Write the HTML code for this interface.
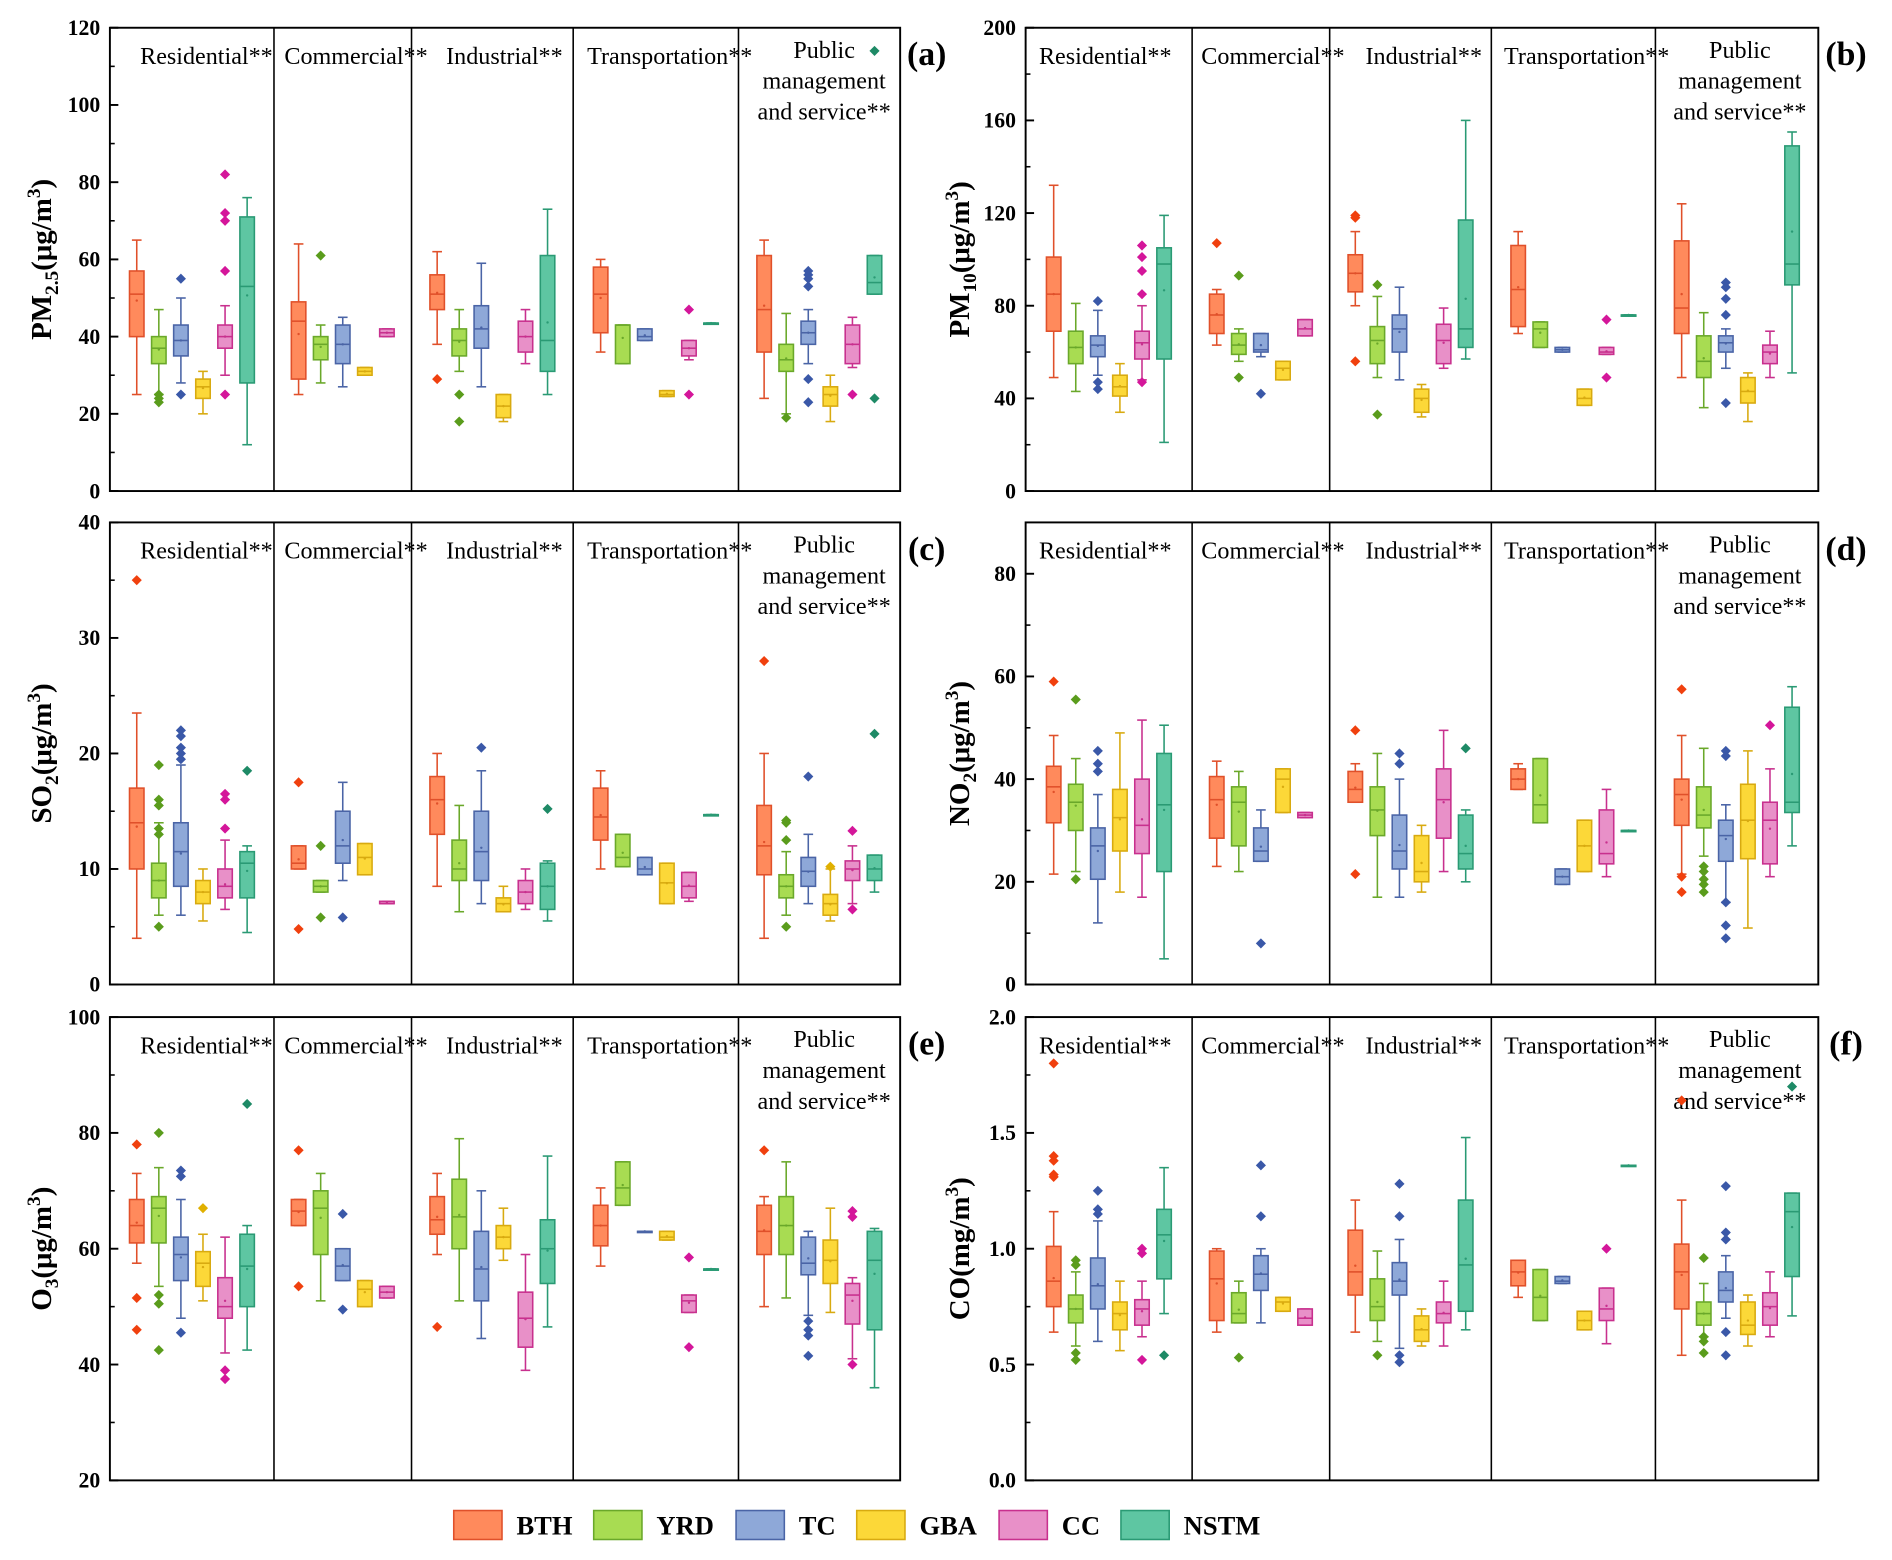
<!DOCTYPE html>
<html><head><meta charset="utf-8"><style>
html,body{margin:0;padding:0;background:#fff}
svg{display:block}
text{font-family:"Liberation Serif",serif;fill:#000}
</style></head><body>
<svg id="chart" xmlns="http://www.w3.org/2000/svg" width="1892" height="1560" viewBox="0 0 1568 1293"></svg>
<script>
const seriesNames=['BTH','YRD','TC','GBA','CC','NSTM'];
const categories=['Residential**','Commercial**','Industrial**','Transportation**','Public management and service**'];
const ticksA=[0,20,40,60,80,100,120];
const ticksB=[0,40,80,120,160,200];
const ticksC=[0,10,20,30,40];
const ticksD=[0,20,40,60,80];
const ticksE=[20,40,60,80,100];
const ticksF=[0,0.5,1.0,1.5,2.0];
// each box: [low, q1, median, q3, high, [outliers]]
const pm25=[
 [[25,40,51,57,65,[]],[25,33,37,40,47,[23,24,25]],[28,35,39,43,50,[55,25]],[20,24,27,29,31,[]],[30,37,40,43,48,[82,72,70,57,25]],[12,28,53,71,76,[]]],
 [[25,29,44,49,64,[]],[28,34,38,40,43,[61]],[27,33,38,43,45,[]],[30,30,31,32,32,[]],[40,40,41,42,42,[]],null],
 [[38,47,51,56,62,[29]],[31,35,39,42,47,[25,18]],[27,37,42,48,59,[]],[18,19,22,25,25,[]],[33,36,40,44,47,[]],[25,31,39,61,73,[]]],
 [[36,41,51,58,60,[]],[33,33,43,43,43,[]],[39,39,40,42,42,[]],[24.5,24.5,25,26,26,[]],[34,35,37,39,39,[47,25]],[43.5,43.5,43.5,43.5,43.5,[]]],
 [[24,36,47,61,65,[]],[20,31,34,38,46,[19]],[33,38,41,44,47,[57,56,55,53,29,23]],[18,22,25,27,30,[]],[32,33,38,43,45,[25]],[51,51,54,61,61,[24,114]]]
];
const pm10=[
 [[49,69,85,101,132,[]],[43,55,62,69,81,[]],[50,58,63,67,78,[82,47,44]],[34,41,45,50,55,[]],[48,57,64,69,80,[106,101,95,85,47]],[21,57,98,105,119,[]]],
 [[63,68,76,85,87,[107]],[56,59,63,68,70,[93,49]],[58,60,61,68,68,[42]],[48,48,53,56,56,[]],[67,67,70,74,74,[]],null],
 [[80,86,94,102,112,[119,118,56]],[49,55,65,71,84,[89,33]],[48,60,70,76,88,[]],[32,34,40,44,46,[]],[53,55,65,72,79,[]],[57,62,70,117,160,[]]],
 [[68,71,87,106,112,[]],[62,62,70,73,73,[]],[60,60,61,62,62,[]],[37,37,40,44,44,[]],[59,59,60,62,62,[74,49]],[76,76,76,76,76,[]]],
 [[49,68,79,108,124,[]],[36,49,56,67,77,[]],[53,60,64,67,70,[90,88,83,76,38]],[30,38,43,49,51,[]],[49,55,60,63,69,[]],[51,89,98,149,155,[]]]
];
const so2=[
 [[4,10,14,17,23.5,[35]],[6,7.5,9,10.5,14,[19,16,15.5,13.5,13,5]],[6,8.5,11.5,14,19,[22,21.5,20.5,20,19.5]],[5.5,7,8,9,10,[]],[6.5,7.5,8.5,10,12.5,[16.5,16,13.5]],[4.5,7.5,10.5,11.5,12,[18.5]]],
 [[10,10,10.5,12,12,[17.5,4.8]],[8,8,8.5,9,9,[12,5.8]],[9,10.5,12,15,17.5,[5.8]],[9.5,9.5,11,12.2,12.2,[]],[7,7,7,7.2,7.2,[]],null],
 [[8.5,13,16,18,20,[]],[6.3,9,10,12.5,15.5,[]],[7,9,11.5,15,18.5,[20.5]],[6.3,6.3,7,7.5,8.5,[]],[6.5,7,8,9,10,[]],[5.5,6.5,8.5,10.5,10.7,[15.2]]],
 [[10,12.5,14.5,17,18.5,[]],[10.2,10.2,11,13,13,[]],[9.5,9.5,10,11,11,[]],[7,7,8.8,10.5,10.5,[]],[7.2,7.5,8.5,9.7,9.7,[]],[14.7,14.7,14.7,14.7,14.7,[]]],
 [[4,9.5,12,15.5,20,[28]],[6,7.5,8.5,9.5,11.5,[14.2,14,12.5,5]],[7,8.5,9.8,11,13,[18]],[5.5,6,7,7.8,10,[10.2]],[7,9,10,10.7,12,[13.3,6.5]],[8,9,10,11.2,11.2,[21.7]]]
];
const no2=[
 [[21.5,31.5,38.5,42.5,48.5,[59]],[22,30,35.5,39,44,[55.5,20.5]],[12,20.5,27,30.5,37,[45.5,43,41.5]],[18,26,32.5,38,49,[]],[17,25.5,31,40,51.5,[]],[5,22,35,45,50.5,[]]],
 [[23,28.5,36,40.5,43.5,[]],[22,27,35.5,38.5,41.5,[]],[24,24,26,30.5,34,[8]],[33.5,33.5,40,42,42,[]],[32.5,32.5,33,33.5,33.5,[]],null],
 [[35.5,35.5,38,41.5,43,[49.5,21.5]],[17,29,34,38.5,45,[]],[17,22.5,26,33,40,[45,43]],[18,20,22,29,31,[]],[22,28.5,36,42,49.5,[]],[20,22.5,25.5,33,34,[46]]],
 [[38,38,40,42,43,[]],[31.5,31.5,35,44,44,[]],[19.5,19.5,21,22.5,22.5,[]],[22,22,27,32,32,[]],[21,23.5,25.5,34,38,[]],[30,30,30,30,30,[]]],
 [[21.5,31,37,40,48.5,[57.5,21,18]],[25,30.5,33,38.5,46,[23,22,20.5,19.5,18]],[16,24,29,32,35,[45.5,44.5,16,11.5,9]],[11,24.5,32,39,45.5,[]],[21,23.5,32,35.5,42,[50.5]],[27,33.5,35.5,54,58,[]]]
];
const o3=[
 [[57.5,61,64,68.5,73,[78,51.5,46]],[53.5,61,67,69,74,[80,52,50.5,42.5]],[48,54.5,59,62,68.5,[73.5,72.5,45.5]],[51,53.5,57.5,59.5,62.5,[67]],[42,48,50,55,62,[39,37.5]],[42.5,50,57,62.5,64,[85]]],
 [[64,64,66.5,68.5,68.5,[77,53.5]],[51,59,67,70,73,[]],[54.5,54.5,57,60,60,[66,49.5]],[50,50,53,54.5,54.5,[]],[51.5,51.5,52.5,53.5,53.5,[]],null],
 [[59,62.5,65,69,73,[46.5]],[51,60,65.5,72,79,[]],[44.5,51,56.5,63,70,[]],[58,60,62,64,67,[]],[39,43,48,52.5,59,[]],[46.5,54,60,65,76,[]]],
 [[57,60.5,64,67.5,70.5,[]],[67.5,67.5,70.5,75,75,[]],[63,63,63,63,63,[]],[61.5,61.5,62,63,63,[]],[49,49,51,52,52,[58.5,43]],[56.5,56.5,56.5,56.5,56.5,[]]],
 [[50,59,63,67.5,69,[77]],[51.5,59,64,69,75,[]],[48.5,55.5,57.5,62,63,[47.5,46,45,41.5]],[49,54,58,61.5,67,[]],[41,47,52,54,55,[66.5,65.5,40]],[36,46,58,63,63.5,[]]]
];
const co=[
 [[0.64,0.75,0.86,1.01,1.16,[1.8,1.4,1.38,1.32,1.31]],[0.58,0.68,0.74,0.8,0.9,[0.95,0.93,0.55,0.52]],[0.6,0.74,0.84,0.96,1.12,[1.25,1.17,1.15]],[0.56,0.65,0.72,0.77,0.86,[]],[0.62,0.67,0.74,0.78,0.86,[1.0,0.98,0.52]],[0.72,0.87,1.06,1.17,1.35,[0.54]]],
 [[0.64,0.69,0.87,0.99,1.0,[]],[0.68,0.68,0.72,0.81,0.86,[0.53]],[0.68,0.82,0.89,0.97,1.0,[1.36,1.14]],[0.73,0.73,0.77,0.79,0.79,[]],[0.67,0.67,0.7,0.74,0.74,[]],null],
 [[0.64,0.8,0.9,1.08,1.21,[]],[0.6,0.69,0.75,0.87,0.99,[0.54]],[0.57,0.8,0.86,0.94,1.04,[1.28,1.14,0.54,0.51]],[0.58,0.6,0.65,0.71,0.74,[]],[0.58,0.68,0.72,0.77,0.86,[]],[0.65,0.73,0.93,1.21,1.48,[]]],
 [[0.79,0.84,0.9,0.95,0.95,[]],[0.69,0.69,0.79,0.91,0.91,[]],[0.85,0.85,0.86,0.88,0.88,[]],[0.65,0.65,0.69,0.73,0.73,[]],[0.59,0.69,0.74,0.83,0.83,[1.0]],[1.36,1.36,1.36,1.36,1.36,[]]],
 [[0.54,0.74,0.9,1.02,1.21,[1.64]],[0.62,0.67,0.72,0.77,0.85,[0.96,0.62,0.6,0.55]],[0.7,0.77,0.82,0.9,0.97,[1.27,1.07,1.04,0.64,0.54]],[0.58,0.63,0.67,0.77,0.8,[]],[0.62,0.67,0.75,0.81,0.9,[]],[0.71,0.88,1.16,1.24,1.24,[1.7]]]
];

const fills=['#ff8a5c','#a8dc52','#8ea8d8','#fcd838','#e890c8','#5ec6a2'];
const strokes=['#e0502a','#6aa82a','#4a64a6','#d8aa10','#c8308e','#2a9a74'];
const outc=['#f0400e','#5a9c1c','#3a58a8','#e0b000','#d4169a','#1e8a66'];
const NS='http://www.w3.org/2000/svg';
const svg=document.getElementById('chart');
function mk(tag,attrs,parent){const e=document.createElementNS(NS,tag);for(const k in attrs)e.setAttribute(k,attrs[k]);(parent||svg).appendChild(e);return e;}

const leftCol={x0:91,x1:746,divs:[227,341,475,612],labX:[171,295,418,555,683],tickX:83,titleX:34,letX:768};
const rightCol={x0:850,x1:1507,divs:[988,1102,1236,1372],labX:[916,1055,1180,1315,1442],tickX:842,titleX:795,letX:1530};
const panels=[
 {id:'a',col:leftCol,y0:23,y1:407,min:0,max:120,ticks:ticksA,fmt:v=>String(v),data:pm25,title:['PM','2.5','(μg/m','3',')']},
 {id:'b',col:rightCol,y0:23,y1:407,min:0,max:200,ticks:ticksB,fmt:v=>String(v),data:pm10,title:['PM','10','(μg/m','3',')']},
 {id:'c',col:leftCol,y0:433,y1:816,min:0,max:40,ticks:ticksC,fmt:v=>String(v),data:so2,title:['SO','2','(μg/m','3',')']},
 {id:'d',col:rightCol,y0:433,y1:816,min:0,max:90,ticks:ticksD,fmt:v=>String(v),data:no2,title:['NO','2','(μg/m','3',')']},
 {id:'e',col:leftCol,y0:843,y1:1227,min:20,max:100,ticks:ticksE,fmt:v=>String(v),data:o3,title:['O','3','(μg/m','3',')']},
 {id:'f',col:rightCol,y0:843,y1:1227,min:0,max:2,ticks:ticksF,fmt:v=>v.toFixed(1),data:co,title:['CO(mg/m','','','3',')']}
];

panels.forEach(p=>{
 const c=p.col;
 const g=mk('g',{});
 
 
 const y=v=>p.y1-(v-p.min)/(p.max-p.min)*(p.y1-p.y0);
 const fr=mk('rect',{x:c.x0,y:p.y0,width:c.x1-c.x0,height:p.y1-p.y0,fill:'none',stroke:'#000','stroke-width':1.6},g);
 
 
 c.divs.forEach(d=>{const l=mk('line',{x1:d,x2:d,y1:p.y0,y2:p.y1,stroke:'#000','stroke-width':1.3},g);
  
  });
 const step=p.ticks[1]-p.ticks[0];
 p.ticks.forEach((t,i)=>{
  const ty=y(t);
  mk('line',{x1:c.x0,x2:c.x0+7,y1:ty,y2:ty,stroke:'#000','stroke-width':1.6},g);
  if(i<p.ticks.length-1){const my=y(t+step/2);mk('line',{x1:c.x0,x2:c.x0+4,y1:my,y2:my,stroke:'#000','stroke-width':1.3},g);}
  const tx=mk('text',{x:c.tickX,y:ty+6,'text-anchor':'end','font-size':18,'font-weight':'bold'},g);
  tx.textContent=p.fmt(t);
  
  
 });
 const cy=(p.y0+p.y1)/2;
 const tt=mk('text',{x:c.titleX,y:cy,'text-anchor':'middle','font-size':24,'font-weight':'bold',transform:`rotate(-90 ${c.titleX} ${cy})`,dy:8},g);
 
 
 const tp=p.title;
 let s=document.createElementNS(NS,'tspan');s.textContent=tp[0];tt.appendChild(s);
 if(tp[1]){s=document.createElementNS(NS,'tspan');s.setAttribute('font-size',16);s.setAttribute('dy',6);s.textContent=tp[1];tt.appendChild(s);
  s=document.createElementNS(NS,'tspan');s.setAttribute('dy',-6);s.textContent=tp[2];tt.appendChild(s);}
 s=document.createElementNS(NS,'tspan');s.setAttribute('font-size',16);s.setAttribute('dy',-9);s.textContent=tp[3];tt.appendChild(s);
 s=document.createElementNS(NS,'tspan');s.setAttribute('dy',9);s.textContent=tp[4];tt.appendChild(s);
 const lt=mk('text',{x:c.letX,y:p.y0+31,'text-anchor':'middle','font-size':28,'font-weight':'bold'},g);
 lt.textContent='('+p.id+')';
 
 
 categories.forEach((cat,ci)=>{
  if(ci<4){const t=mk('text',{x:c.labX[ci],y:p.y0+30,'text-anchor':'middle','font-size':20},g);t.textContent=cat;
   
   }
  else{['Public','management','and service**'].forEach((ln,li)=>{const t=mk('text',{x:c.labX[ci],y:p.y0+25+li*25.5,'text-anchor':'middle','font-size':20},g);t.textContent=ln;
   
   });}
 });
 const edges=[c.x0,...c.divs,c.x1];
 p.data.forEach((cat,ci)=>{
  const present=cat.map((b,i)=>b?i:-1).filter(i=>i>=0);
  const cx=(edges[ci]+edges[ci+1])/2, sp=18.3, n=present.length;
  present.forEach((si,k)=>{
   const b=cat[si];const x=cx+(k-(n-1)/2)*sp;const w=12;
   const bg=mk('g',{},g);
   
   
   const st=strokes[si];
   mk('line',{x1:x,x2:x,y1:y(b[0]),y2:y(b[1]),stroke:st,'stroke-width':1.3},bg);
   mk('line',{x1:x,x2:x,y1:y(b[3]),y2:y(b[4]),stroke:st,'stroke-width':1.3},bg);
   mk('line',{x1:x-4,x2:x+4,y1:y(b[0]),y2:y(b[0]),stroke:st,'stroke-width':1.3},bg);
   mk('line',{x1:x-4,x2:x+4,y1:y(b[4]),y2:y(b[4]),stroke:st,'stroke-width':1.3},bg);
   mk('rect',{x:x-w/2,y:y(b[3]),width:w,height:Math.max(1,y(b[1])-y(b[3])),fill:fills[si],stroke:st,'stroke-width':1.3},bg);
   mk('line',{x1:x-w/2,x2:x+w/2,y1:y(b[2]),y2:y(b[2]),stroke:st,'stroke-width':1.3},bg);
   const mean=(b[1]+b[2]+b[3])/3;
   mk('circle',{cx:x,cy:y(mean),r:1,fill:st},bg);
   b[5].forEach(o=>{const oy=y(o);mk('path',{d:`M${x} ${oy-4.2}L${x+4.2} ${oy}L${x} ${oy+4.2}L${x-4.2} ${oy}Z`,fill:outc[si]},bg);});
  });
 });
});
const lg=mk('g',{});


const legX=[376,492,610,710,828,929];
seriesNames.forEach((nm,i)=>{
 const eg=mk('g',{},lg);
 
 
 mk('rect',{x:legX[i],y:1252,width:40,height:24,fill:fills[i],stroke:strokes[i],'stroke-width':1.3},eg);
 const t=mk('text',{x:legX[i]+52,y:1272,'font-size':22,'font-weight':'bold'},eg);t.textContent=nm;
});
</script>
</body></html>
